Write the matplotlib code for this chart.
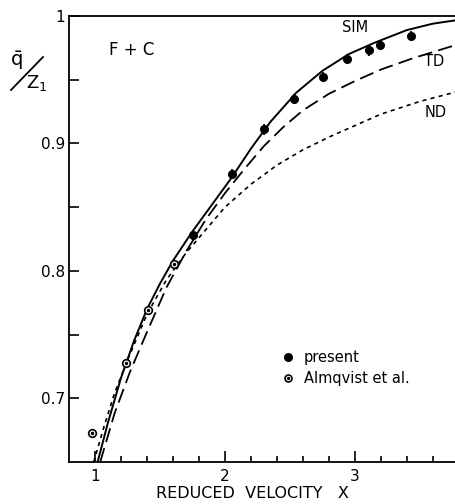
import numpy as np
import matplotlib.pyplot as plt
from matplotlib.lines import Line2D
from matplotlib.legend_handler import HandlerTuple

# curves
sim_x=[1.02,1.10,1.20,1.30,1.40,1.50,1.60,1.75,1.90,2.05,2.20,2.35,2.55,2.75,2.95,3.15,3.40,3.60,3.80]
sim_q=[0.650,0.681,0.716,0.745,0.770,0.790,0.808,0.831,0.852,0.873,0.896,0.917,0.940,0.957,0.970,0.979,0.989,0.994,0.997]

td_x=[1.04,1.15,1.27,1.40,1.55,1.70,1.85,2.00,2.15,2.30,2.45,2.60,2.80,3.00,3.20,3.45,3.80]
td_q=[0.650,0.688,0.721,0.752,0.787,0.815,0.840,0.861,0.880,0.898,0.913,0.926,0.939,0.949,0.958,0.967,0.978]

nd_x=[0.99,1.07,1.15,1.25,1.40,1.55,1.70,1.85,2.00,2.20,2.40,2.60,2.80,3.00,3.20,3.50,3.80]
nd_q=[0.650,0.678,0.704,0.730,0.766,0.793,0.814,0.832,0.850,0.868,0.883,0.895,0.905,0.914,0.923,0.933,0.941]

# measurements
pres_x=[1.75,2.05,2.30,2.53,2.75,2.94,3.11,3.19,3.43]
pres_q=[0.828,0.876,0.911,0.935,0.952,0.966,0.973,0.977,0.984]
pres_err=[0.004,0.004,0.004,0.004,0.004,0.004,0.004,0.004,0.004]

alm_x=[0.98,1.24,1.41,1.61]
alm_q=[0.673,0.728,0.769,0.805]

W,H=455,504
fig=plt.figure(figsize=(W/100,H/100),dpi=100)
ax=fig.add_axes([69/W,(H-462)/H,416/W,446/H])

ax.plot(sim_x,sim_q,color='black',lw=1.4)
ax.plot(td_x,td_q,color='black',lw=1.3,linestyle=(0,(8,3.5)))
ax.plot(nd_x,nd_q,color='black',lw=1.2,linestyle=(0,(2.5,2.5)))

ax.errorbar(pres_x,pres_q,yerr=pres_err,fmt='o',color='black',ms=5.5,elinewidth=1.3,capsize=0)
ax.plot(alm_x,alm_q,'o',mfc='white',mec='black',mew=1.2,ms=5.5)
ax.plot(alm_x,alm_q,'o',color='black',ms=1.5)

ax.set_xlim(0.8,4.0)
ax.set_ylim(0.65,1.0)
ax.set_xticks([1,2,3])
ax.set_xticklabels(['1','2','3'])
ax.set_xticks(np.arange(1.2,4.0,0.2),minor=True)
ax.set_yticks([0.7,0.8,0.9,1.0])
ax.set_yticklabels(['0.7','0.8','0.9','1'])
ax.set_yticks([0.75,0.85,0.95],minor=True)
ax.tick_params(axis='both',which='both',direction='in',width=1.2,labelsize=11)
ax.tick_params(axis='x',which='major',length=8,pad=5)
ax.tick_params(axis='x',which='minor',length=4)
ax.tick_params(axis='y',which='both',length=7,pad=3)
ax.spines['right'].set_visible(False)
for s in ['left','bottom','top']:
    ax.spines[s].set_linewidth(1.3)

ax.text(3.0,0.985,'SIM',fontsize=10.5,ha='center',va='bottom')
ax.text(3.61,0.964,'TD',fontsize=10.5,ha='center',va='center')
ax.text(3.62,0.924,'ND',fontsize=10.5,ha='center',va='center')
ax.text(1.11,0.973,'F + C',fontsize=12,ha='left',va='center')

# legend
h1=Line2D([],[],marker='o',color='black',ls='none',ms=5.5)
h2a=Line2D([],[],marker='o',mfc='white',mec='black',mew=1.2,ls='none',ms=5)
h2b=Line2D([],[],marker='o',color='black',ls='none',ms=1.4)
ax.legend([h1,(h2a,h2b)],['present','Almqvist et al.'],loc='upper left',bbox_to_anchor=(276/W,160/H),
          bbox_transform=fig.transFigure,frameon=False,fontsize=10.5,handlelength=0.8,
          handletextpad=0.7,labelspacing=0.45,borderaxespad=0,
          handler_map={tuple:HandlerTuple(ndivide=1,pad=0)})

fig.text(252/W,1-493/H,'REDUCED  VELOCITY   X',fontsize=11.5,ha='center',va='center')

# y label drawn as q / Z1 with slash
fig.text(16/W,1-61/H,r'$\bar{\mathrm{q}}$',fontsize=14,ha='center',va='center')
fig.text(37/W,1-83/H,r'$\mathrm{Z_1}$',fontsize=13,ha='center',va='center')
fig.add_artist(Line2D([11/W,43/W],[1-90/H,1-57/H],color='black',lw=1.3))

fig.savefig('out.png',dpi=100)
